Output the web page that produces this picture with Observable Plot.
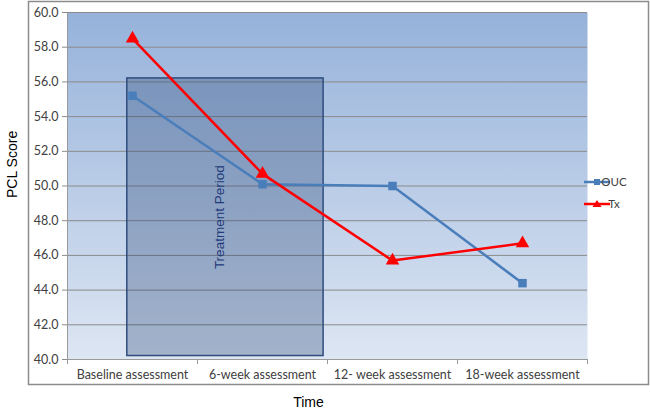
<!DOCTYPE html>
<html>
<head>
<meta charset="utf-8">
<script src="https://cdn.jsdelivr.net/npm/d3@7"></script>
<script src="https://cdn.jsdelivr.net/npm/@observablehq/plot@0.6"></script>
<style>
  html, body { margin: 0; padding: 0; background: #fff; }
  #chart { position: relative; width: 650px; height: 411px; }
</style>
</head>
<body>
<div id="chart"></div>
<script>
const categories = ["Baseline assessment", "6-week assessment", "12- week assessment", "18-week assessment"];
const oucValues = [55.2, 50.1, 50.0, 44.4];
const txValues = [58.5, 50.7, 45.7, 46.7];
const yTicks = [40, 42, 44, 46, 48, 50, 52, 54, 56, 58, 60];
const treatmentX = [-0.04, 1.47];
const treatmentY = [40.2, 56.2];
const seriesNames = ["OUC", "Tx"];
const seriesColors = ["#4a7ebb", "#ff0000"];

const idx = categories.map((c, i) => i);
const ouc = idx.map(i => ({x: i, y: oucValues[i]}));
const tx = idx.map(i => ({x: i, y: txValues[i]}));
const treatment = [{x1: treatmentX[0], x2: treatmentX[1], y1: treatmentY[0], y2: treatmentY[1]}];
const boundaries = [-0.5, 0.5, 1.5, 2.5, 3.5];
const labelFont = "Lato, 'Open Sans', sans-serif";
const titleFont = "'Liberation Sans', Arial, sans-serif";

const plot = Plot.plot({
  width: 650,
  height: 411,
  marginLeft: 67,
  marginRight: 63,
  marginTop: 12,
  marginBottom: 52,
  style: {fontFamily: labelFont, fontSize: "12px", background: "transparent"},
  x: {type: "linear", domain: [-0.5, 3.5]},
  y: {domain: [40, 60]},
  marks: [
    Plot.frame({fill: "url(#bgGrad)", stroke: "none"}),
    Plot.ruleY(yTicks, {stroke: "#8a8a8a", strokeWidth: 1}),
    Plot.ruleX([-0.5], {stroke: "#9a9a9a", strokeWidth: 1}),
    Plot.ruleY([40], {stroke: "#9a9a9a", strokeWidth: 1}),
    Plot.axisY({ticks: yTicks, tickSize: 5, tickPadding: 4, tickFormat: d => d.toFixed(1), stroke: "#8a8a8a", fill: "#404040", fontSize: 12.5, fontFamily: labelFont, label: null}),
    Plot.axisX({ticks: boundaries, tickSize: 5, tickFormat: () => "", stroke: "#9a9a9a", label: null}),
    Plot.axisX({ticks: idx, tickSize: 0, tickPadding: 11, tickFormat: i => categories[i], fill: "#404040", fontSize: 12.5, fontFamily: labelFont, label: null}),
    Plot.rect(treatment, {x1: "x1", x2: "x2", y1: "y1", y2: "y2", fill: "#1f3c6e", fillOpacity: 0.3, stroke: "#2f4d7e", strokeWidth: 1.5}),
    Plot.text(treatment, {x: d => (d.x1 + d.x2) / 2, y: d => (d.y1 + d.y2) / 2, text: () => "Treatment Period", rotate: -90, dx: -6, fill: "#1f3a7a", fontSize: 13.5, fontFamily: titleFont}),
    Plot.line(ouc, {x: "x", y: "y", stroke: seriesColors[0], strokeWidth: 2.5}),
    Plot.dot(ouc, {x: "x", y: "y", symbol: "square", r: 4.8, fill: seriesColors[0]}),
    Plot.line(tx, {x: "x", y: "y", stroke: seriesColors[1], strokeWidth: 2.5}),
    Plot.dot(tx, {x: "x", y: "y", symbol: "triangle", r: 5, fill: seriesColors[1]}),
    Plot.text(["PCL Score"], {frameAnchor: "left", text: d => d, rotate: -90, dx: -55, dy: 12, fill: "#000", fontSize: 14, fontWeight: "normal", fontFamily: titleFont}),
    Plot.text(["Time"], {frameAnchor: "bottom", text: d => d, dx: -19, dy: 47, fill: "#000", fontSize: 14, fontWeight: "normal", fontFamily: titleFont})
  ]
});

const svg = d3.select(plot);
const defs = svg.insert("defs", ":first-child");
const grad = defs.append("linearGradient").attr("id", "bgGrad").attr("x1", 0).attr("y1", 0).attr("x2", 0).attr("y2", 1);
grad.append("stop").attr("offset", "0%").attr("stop-color", "#96b2da");
grad.append("stop").attr("offset", "100%").attr("stop-color", "#dde6f3");

// outer chart border
svg.append("rect").attr("x", 28.5).attr("y", 1.5).attr("width", 620).attr("height", 383)
  .attr("fill", "none").attr("stroke", "#8c8c8c").attr("stroke-width", 1.5);

// legend
const legend = svg.append("g").attr("font-family", labelFont).attr("font-size", 11.5).attr("fill", "#404040");
seriesNames.forEach((name, i) => {
  const y = 182 + i * 22;
  legend.append("line").attr("x1", 584).attr("x2", 610).attr("y1", y).attr("y2", y)
    .attr("stroke", seriesColors[i]).attr("stroke-width", 2.5);
  if (i === 0) {
    legend.append("rect").attr("x", 594).attr("y", y - 3).attr("width", 6).attr("height", 6).attr("fill", seriesColors[i]);
  } else {
    legend.append("path").attr("d", `M597,${y - 4}L601.5,${y + 3}L592.5,${y + 3}Z`).attr("fill", seriesColors[i]);
  }
  legend.append("text").attr("x", 614).attr("y", y).attr("dy", "0.35em").text(name);
});

document.getElementById("chart").appendChild(plot);
</script>
</body>
</html>
